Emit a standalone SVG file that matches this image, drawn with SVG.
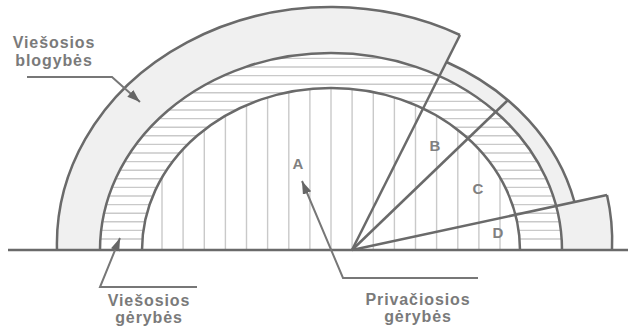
<svg xmlns="http://www.w3.org/2000/svg" width="628" height="327" viewBox="0 0 628 327">
<style>
.edge{fill:none;stroke:#6a6a6a;stroke-width:2.5;stroke-linejoin:miter}
.band{fill:#f0f0f0;stroke:none}
.hatch{stroke:#c9c9c9;stroke-width:1.4}
.lead{fill:none;stroke:#777;stroke-width:2}
.lbl{font-family:"Liberation Sans",Arial,sans-serif;font-weight:bold;font-size:16px;letter-spacing:0.9px;fill:#7a7a7a;text-anchor:middle}
.let{font-family:"Liberation Sans",Arial,sans-serif;font-weight:bold;font-size:15px;fill:#808080;text-anchor:middle}
</style>
<defs>
<marker id="arr" markerUnits="userSpaceOnUse" markerWidth="16" markerHeight="10" refX="13" refY="4.5" orient="auto">
<path d="M0,0 L13,4.5 L0,9 Z" fill="#666"/>
</marker>
<clipPath id="bandClip"><path d="M100,250 A231 197 0 0 1 562,250 L520,250 A189 162 0 0 0 142,250 Z"/></clipPath>
<clipPath id="innerClip"><path d="M142,250 A189 162 0 0 1 520,250 Z"/></clipPath>
</defs>
<rect width="628" height="327" fill="#fff"/>

<g id="public-bads">
<path class="band" d="M57,250 A274 237 0 0 1 460,35 L439.4,76 A231 197 0 0 0 100,250 Z"/>
<path class="band" d="M446.5,62 A250 212 0 0 1 574.5,202 L556.2,206 A231 197 0 0 0 439.4,76 Z"/>
<path class="band" d="M556.2,206 L607,195 A281 240 0 0 1 612,250 L562,250 A231 197 0 0 0 556.2,206 Z"/>
<path class="edge" d="M57,250 A274 237 0 0 1 460,35"/>
<path class="edge" d="M446.5,62 A250 212 0 0 1 574.5,202"/>
<path class="edge" d="M607,195 A281 240 0 0 1 612,250"/>
</g>

<g id="public-goods">
<g clip-path="url(#bandClip)" class="hatch">
<line x1="90" y1="239" x2="570" y2="239"/>
<line x1="90" y1="230.4" x2="570" y2="230.4"/>
<line x1="90" y1="221.8" x2="570" y2="221.8"/>
<line x1="90" y1="213.2" x2="570" y2="213.2"/>
<line x1="90" y1="204.6" x2="570" y2="204.6"/>
<line x1="90" y1="196" x2="570" y2="196"/>
<line x1="90" y1="187.4" x2="570" y2="187.4"/>
<line x1="90" y1="178.8" x2="570" y2="178.8"/>
<line x1="90" y1="170.2" x2="570" y2="170.2"/>
<line x1="90" y1="161.6" x2="570" y2="161.6"/>
<line x1="90" y1="153" x2="570" y2="153"/>
<line x1="90" y1="144.4" x2="570" y2="144.4"/>
<line x1="90" y1="135.8" x2="570" y2="135.8"/>
<line x1="90" y1="127.2" x2="570" y2="127.2"/>
<line x1="90" y1="118.6" x2="570" y2="118.6"/>
<line x1="90" y1="110" x2="570" y2="110"/>
<line x1="90" y1="101.4" x2="570" y2="101.4"/>
<line x1="90" y1="92.8" x2="570" y2="92.8"/>
<line x1="90" y1="84.2" x2="570" y2="84.2"/>
<line x1="90" y1="75.6" x2="570" y2="75.6"/>
<line x1="90" y1="67" x2="570" y2="67"/>
<line x1="90" y1="58.4" x2="570" y2="58.4"/>
</g>
<path class="edge" d="M100,250 A231 197 0 0 1 562,250"/>
</g>

<g id="private-goods">
<g clip-path="url(#innerClip)" class="hatch">
<line x1="162" y1="250" x2="162" y2="80"/>
<line x1="183.1" y1="250" x2="183.1" y2="80"/>
<line x1="204.3" y1="250" x2="204.3" y2="80"/>
<line x1="225.4" y1="250" x2="225.4" y2="80"/>
<line x1="246.5" y1="250" x2="246.5" y2="80"/>
<line x1="267.6" y1="250" x2="267.6" y2="80"/>
<line x1="288.8" y1="250" x2="288.8" y2="80"/>
<line x1="309.9" y1="250" x2="309.9" y2="80"/>
<line x1="331" y1="250" x2="331" y2="80"/>
<line x1="352.1" y1="250" x2="352.1" y2="80"/>
<line x1="373.3" y1="250" x2="373.3" y2="80"/>
<line x1="394.4" y1="250" x2="394.4" y2="80"/>
<line x1="415.5" y1="250" x2="415.5" y2="80"/>
<line x1="436.6" y1="250" x2="436.6" y2="80"/>
<line x1="457.8" y1="250" x2="457.8" y2="80"/>
<line x1="478.9" y1="250" x2="478.9" y2="80"/>
<line x1="500" y1="250" x2="500" y2="80"/>
</g>
<path class="edge" d="M142,250 A189 162 0 0 1 520,250"/>
<text class="let" x="298" y="168.5">A</text>
</g>

<g id="sectors">
<path class="edge" d="M352,250 L460,35"/>
<path class="edge" d="M352,250 L508,100"/>
<path class="edge" d="M352,250 L607,195"/>
<text class="let" x="435" y="150.5">B</text>
<text class="let" x="478" y="193.5">C</text>
<text class="let" x="498" y="237.5">D</text>
</g>

<g id="baseline">
<path class="edge" d="M8,250 L628,250"/>
</g>

<g id="connectors">
<path class="lead" d="M27,77 L112,77 L140,102" marker-end="url(#arr)"/>
<path class="lead" d="M197,287 L100,287 L120,238" marker-end="url(#arr)"/>
<path class="lead" d="M478,278 L343,278 L302,181" marker-end="url(#arr)"/>
</g>

<g id="label-bads">
<text class="lbl" x="54" y="48">Viešosios</text>
<text class="lbl" x="54" y="66">blogybės</text>
</g>
<g id="label-public-goods">
<text class="lbl" x="149" y="306">Viešosios</text>
<text class="lbl" x="149" y="323">gėrybės</text>
</g>
<g id="label-private-goods">
<text class="lbl" x="418" y="305">Privačiosios</text>
<text class="lbl" x="418" y="322">gėrybės</text>
</g>
</svg>
